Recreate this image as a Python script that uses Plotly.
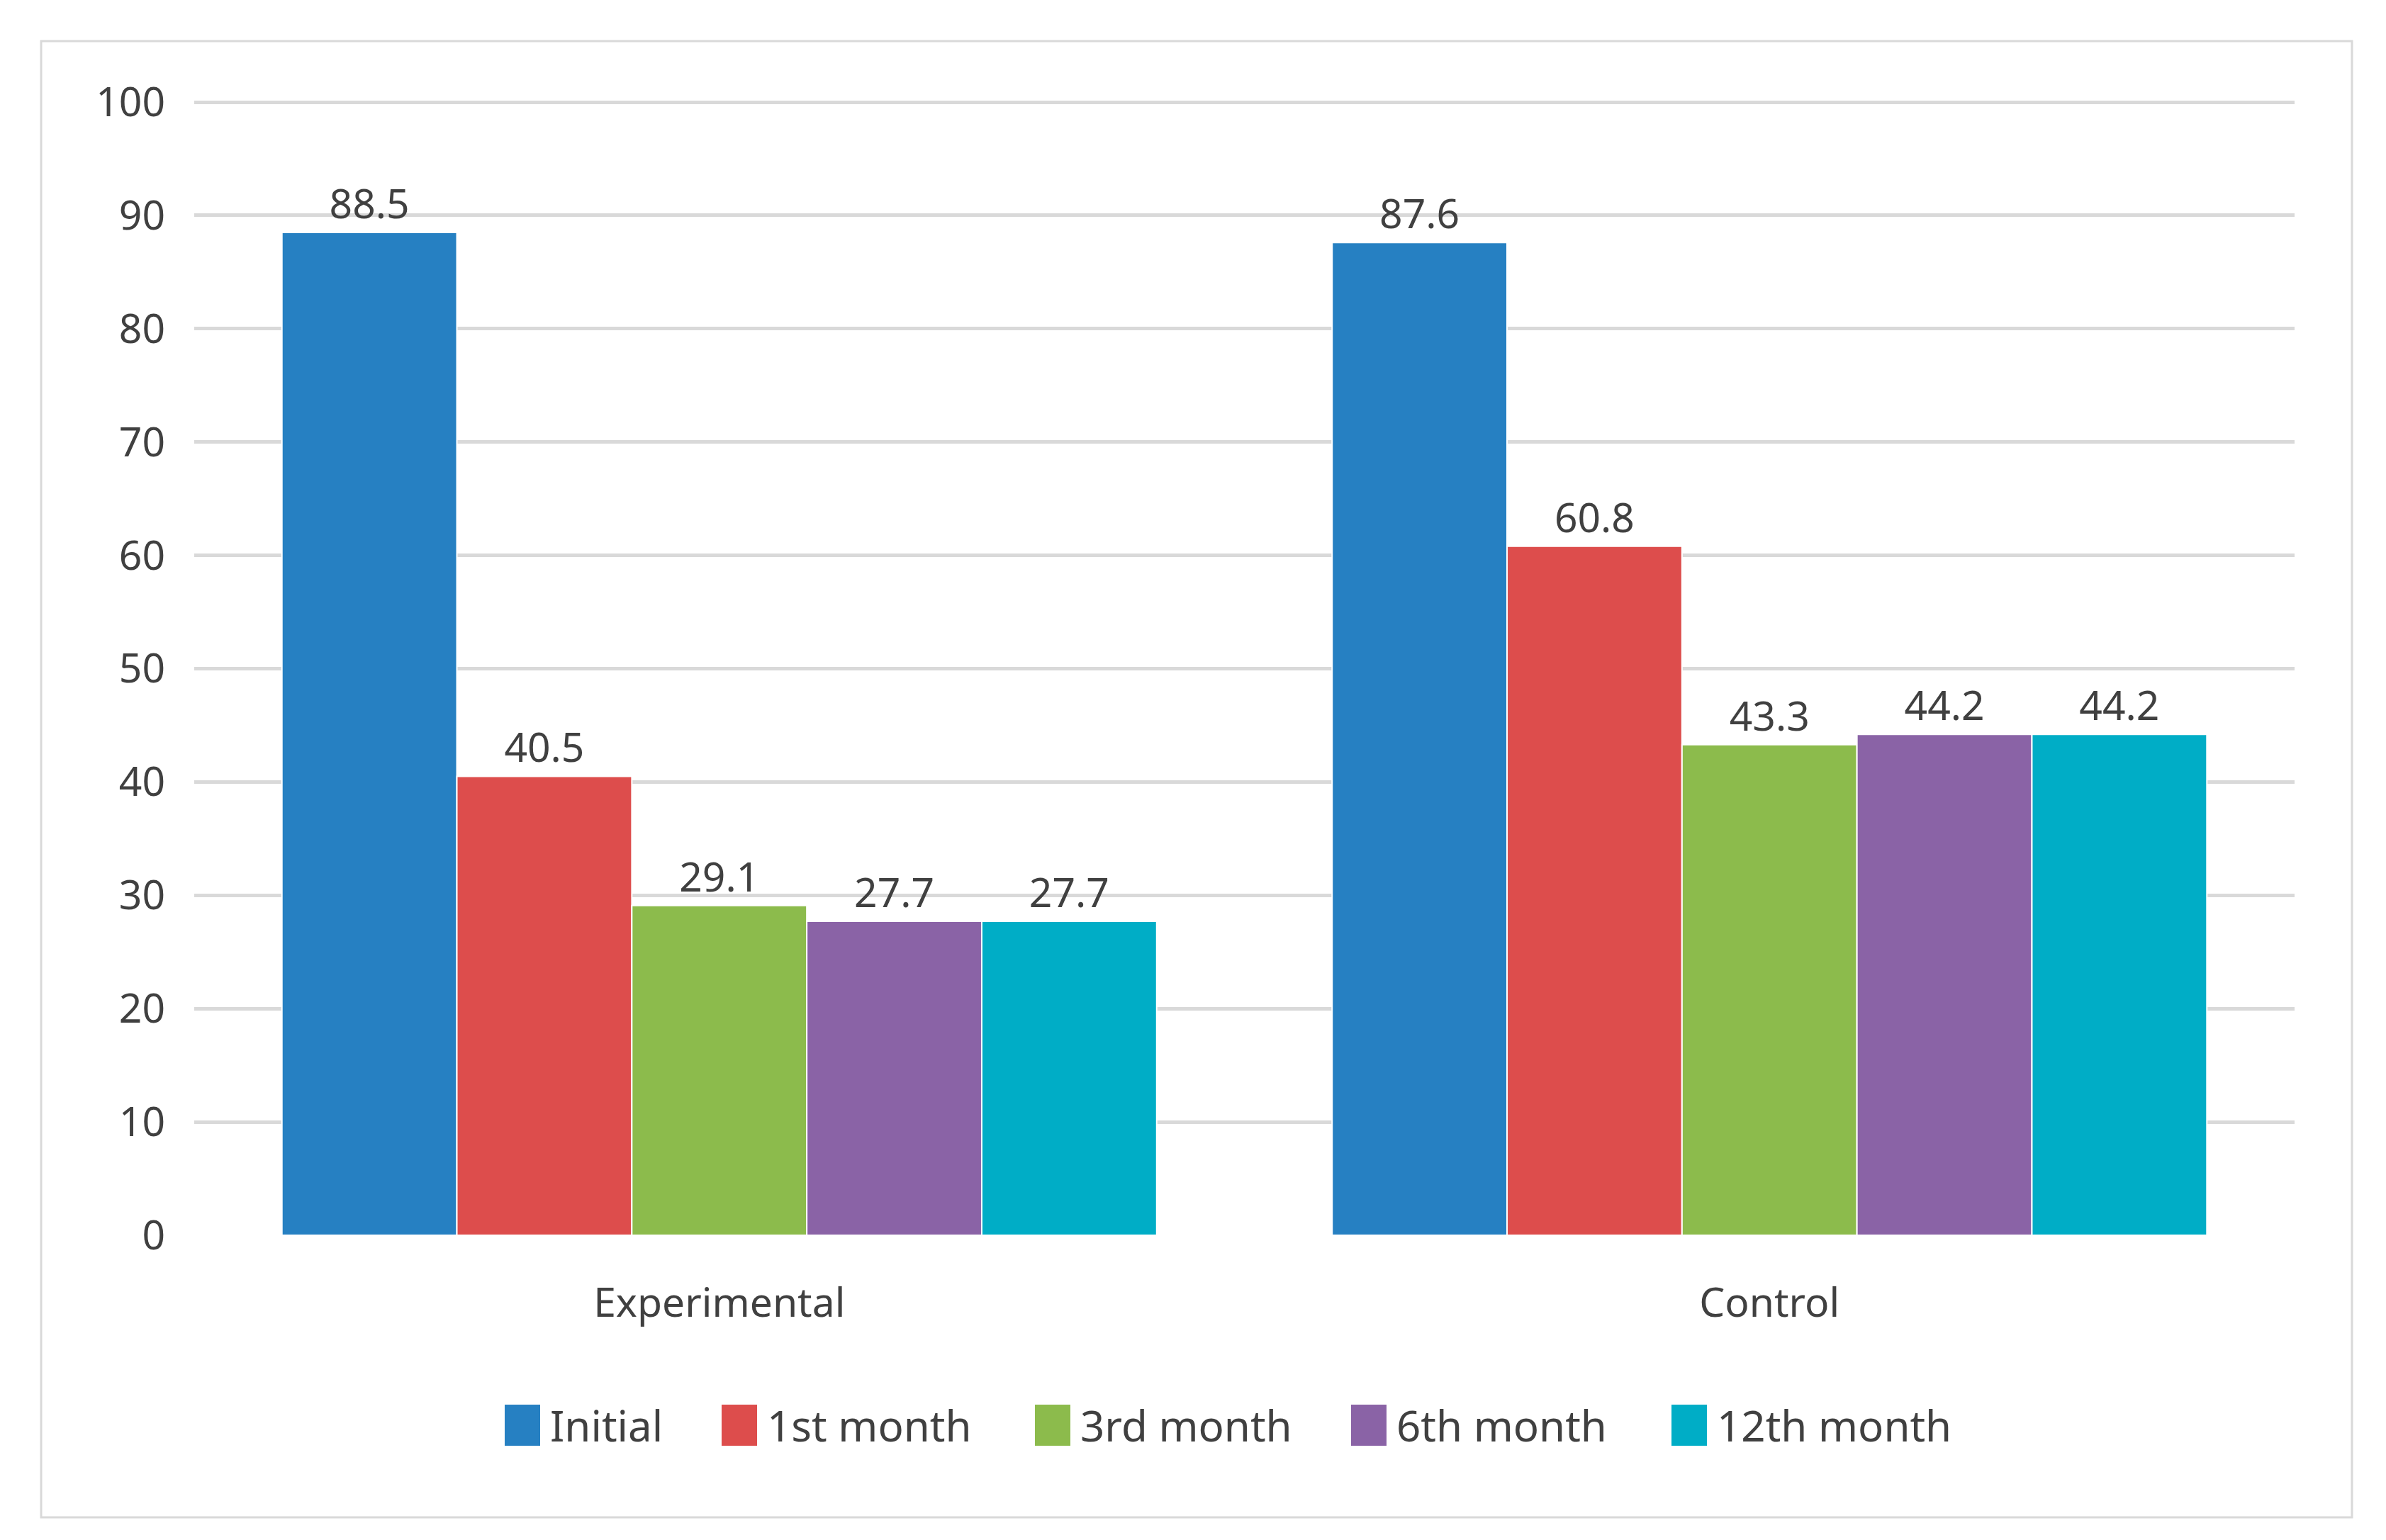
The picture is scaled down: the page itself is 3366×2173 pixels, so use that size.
import plotly.graph_objects as go

groups = ["Experimental", "Control"]
series_names = ["Initial", "1st month", "3rd month", "6th month", "12th month"]
initial = [88.5, 87.6]
month1 = [40.5, 60.8]
month3 = [29.1, 43.3]
month6 = [27.7, 44.2]
month12 = [27.7, 44.2]
series_values = [initial, month1, month3, month6, month12]
colors = ["#2680C2", "#DD4D4C", "#8CBB4C", "#8A63A6", "#00ADC6"]
y_ticks = [0, 10, 20, 30, 40, 50, 60, 70, 80, 90, 100]

W, H = 3366, 2173
L, R, T, B = 266, 3229, 132, 1735
FONT = "Noto Sans"
FS = 57
TXT = "#404040"

fig = go.Figure()
for name, vals, col in zip(series_names, series_values, colors):
    fig.add_trace(go.Bar(
        x=groups, y=vals, name=name,
        marker=dict(color=col, line=dict(color="white", width=2)),
        text=[f"{v:.1f}" for v in vals], textposition="outside",
        textfont=dict(family=FONT, size=FS, color=TXT),
        cliponaxis=False, showlegend=False,
    ))

pw = R - L
ph = B - T
def px_x(p):
    return (p - L) / pw
def px_y(p):
    return (B - p) / ph

# custom legend (Excel-style tall swatches)
legend_left_px = [704, 1010, 1452, 1898, 2350]
leg_y = 2003
shapes = [dict(type="rect", xref="paper", yref="paper",
               x0=px_x(50), x1=px_x(3310), y0=px_y(2133), y1=px_y(50),
               line=dict(color="#d9d9d9", width=3), fillcolor="rgba(0,0,0,0)",
               layer="below")]
annotations = []
for name, col, lx in zip(series_names, colors, legend_left_px):
    shapes.append(dict(type="rect", xref="paper", yref="paper",
                       x0=px_x(lx), x1=px_x(lx + 50),
                       y0=px_y(leg_y + 29), y1=px_y(leg_y - 29),
                       fillcolor=col, line=dict(width=0)))
    annotations.append(dict(xref="paper", yref="paper", x=px_x(lx + 62),
                            y=px_y(leg_y), xanchor="left", yanchor="middle",
                            text=name, showarrow=False,
                            font=dict(family=FONT, size=60, color=TXT)))

fig.update_layout(
    width=W, height=H,
    margin=dict(l=L, r=W - R, t=T, b=H - B, pad=0),
    paper_bgcolor="white", plot_bgcolor="white",
    barmode="group", bargap=0.167, bargroupgap=0,
    font=dict(family=FONT, size=FS, color=TXT),
    showlegend=False,
    shapes=shapes, annotations=annotations,
)
fig.update_yaxes(range=[0, 100.25], tickvals=y_ticks, showgrid=True,
                 gridcolor="#d9d9d9", gridwidth=5, zeroline=False,
                 showline=False, ticks="", ticklabelstandoff=40,
                 tickfont=dict(family=FONT, size=FS, color=TXT))
fig.update_xaxes(showline=False, showgrid=False, ticks="",
                 ticklabelstandoff=57,
                 tickfont=dict(family=FONT, size=FS, color=TXT))

fig.write_html("out.html")
